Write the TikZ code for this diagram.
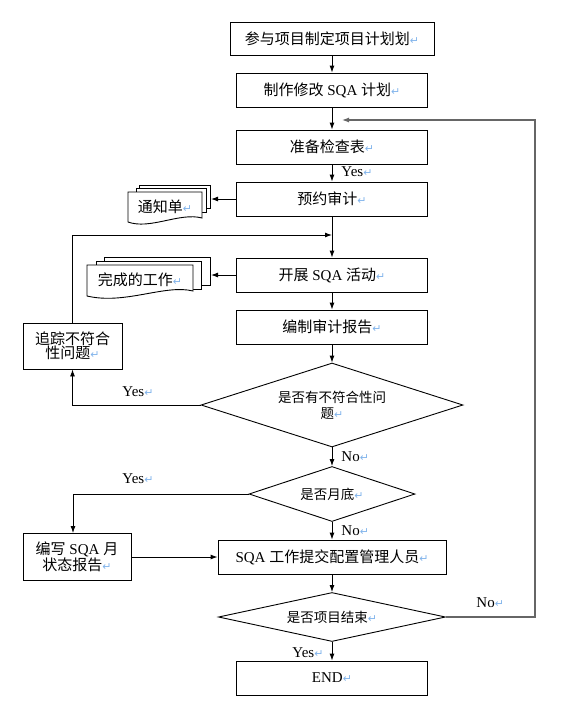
\documentclass[tikz,border=0pt]{standalone}
\usepackage{fontspec}
\setmainfont{Liberation Serif}
\newfontfamily\cjk{Noto Sans CJK SC}
\newfontfamily\retfont{DejaVu Sans}
\usepackage{tikz}
\usepackage{xcolor}
\usetikzlibrary{positioning, arrows.meta}
\usetikzlibrary{shapes.geometric}
\definecolor{retblue}{RGB}{130,180,235}
\newcommand{\ret}{{\retfont\fontsize{11}{11}\selectfont\color{retblue}↵}}
\newcommand{\zh}[1]{{\cjk #1}}

\begin{document}
\begin{tikzpicture}[x=1pt, y=-1pt, line width=0.9pt, >={Latex[length=7pt,width=5pt]},
        procbox/.style={draw, rectangle, minimum width=191pt, minimum height=34pt, inner sep=2pt, font=\fontsize{15}{18}\selectfont},
        sidebox/.style={draw, rectangle, align=center, inner sep=2pt, font=\fontsize{15}{14}\selectfont},
        decision/.style={draw, diamond, aspect=4, inner sep=1pt, align=center, font=\fontsize{13.5}{16}\selectfont},
        doclabel/.style={inner sep=0pt, font=\fontsize{15}{18}\selectfont},
        ylabel/.style={inner sep=0pt, anchor=west, font=\fontsize{15}{15}\selectfont}]
            \useasboundingbox (0, 0) rectangle (578, 702);

            \node[procbox, minimum width=204pt, minimum height=33pt] (plan) at (332, 38.5) {\zh{参与项目制定项目计划划}\ret};
            \node[procbox] (sqaplan) at (332, 90) {\zh{制作修改} SQA \zh{计划}\ret};
            \node[procbox] (checklist) at (332, 147) {\zh{准备检查表}\ret};
            \node[procbox] (booking) at (332, 199) {\zh{预约审计}\ret};
            \node[procbox] (activity) at (332, 275) {\zh{开展} SQA \zh{活动}\ret};
            \node[procbox] (report) at (332, 327) {\zh{编制审计报告}\ret};
            \node[decision, minimum width=262pt, minimum height=84pt] (issues) at (332, 405) {\zh{是否有不符合性问}\\\zh{题}\ret};
            \node[decision, minimum width=166pt, minimum height=55pt] (monthend) at (332, 494) {\zh{是否月底}\ret};
            \node[procbox, minimum width=228pt] (submit) at (332, 557) {SQA \zh{工作提交配置管理人员}\ret};
            \node[decision, minimum width=227pt, minimum height=49pt] (finished) at (332, 617) {\zh{是否项目结束}\ret};
            \node[procbox] (stop) at (332, 678) {END\ret};

            \node[sidebox, minimum width=99pt, minimum height=46pt] (track) at (72.5, 346) {\zh{追踪不符合}\\\zh{性问题}\ret};
            \node[sidebox, minimum width=108pt, minimum height=47pt] (monthly) at (77, 557) {\zh{编写} SQA \zh{月}\\\zh{状态报告}\ret};

            \draw[fill=white] (139, 185) rectangle (210, 208);
            \draw[fill=white] (136, 188) rectangle (206, 212);
            \draw[fill=white] (128, 192) -- (202, 192) -- (202, 218) .. controls (180, 212) and (150, 230) .. (128, 222) -- cycle;
            \node[doclabel] (notice) at (165, 207) {\zh{通知单}\ret};
            \coordinate (noticein) at (211, 199);

            \draw[fill=white] (104, 257) rectangle (210, 285);
            \draw[fill=white] (96, 261) rectangle (201, 289);
            \draw[fill=white] (87, 265) -- (193, 265) -- (193, 291) .. controls (165, 284) and (125, 305) .. (87, 296) -- cycle;
            \node[doclabel] (work) at (140, 280) {\zh{完成的工作}\ret};
            \coordinate (workin) at (211, 275);

            \coordinate (loopin) at (332, 235);
            \coordinate (backtop) at (535, 120);
            \coordinate (backin) at (342, 120);

            \draw[->] (plan) -- (sqaplan);
            \draw[->] (sqaplan) -- (checklist);
            \draw[->] (checklist) -- (booking);
            \draw[->] (booking) -- (activity);
            \draw[->] (activity) -- (report);
            \draw[->] (report) -- (issues);
            \draw[->] (issues) -- (monthend);
            \draw[->] (monthend) -- (submit);
            \draw[->] (submit) -- (finished);
            \draw[->] (finished) -- (stop);
            \draw[->] (booking) -- (noticein);
            \draw[->] (activity) -- (workin);
            \draw[->] (issues.west) -| (track.south);
            \draw[->] (track.north) |- (loopin);
            \draw[->] (monthend.west) -| ([xshift=-4pt]monthly.north);
            \draw[->] (monthly.east) -- (submit.west);
            \draw[->, draw=black!60, line width=1.2pt] (finished.east) -| (backtop) -- (backin);

            \node[ylabel] (yes1) at (341, 172) {Yes\ret};
            \node[ylabel] (yes2) at (122, 392) {Yes\ret};
            \node[ylabel] (no1) at (341, 457) {No\ret};
            \node[ylabel] (yes3) at (122, 479) {Yes\ret};
            \node[ylabel] (no2) at (341, 531) {No\ret};
            \node[ylabel] (no3) at (476, 603) {No\ret};
            \node[ylabel] (yes4) at (292, 653) {Yes\ret};
        \end{tikzpicture}
\end{document}
